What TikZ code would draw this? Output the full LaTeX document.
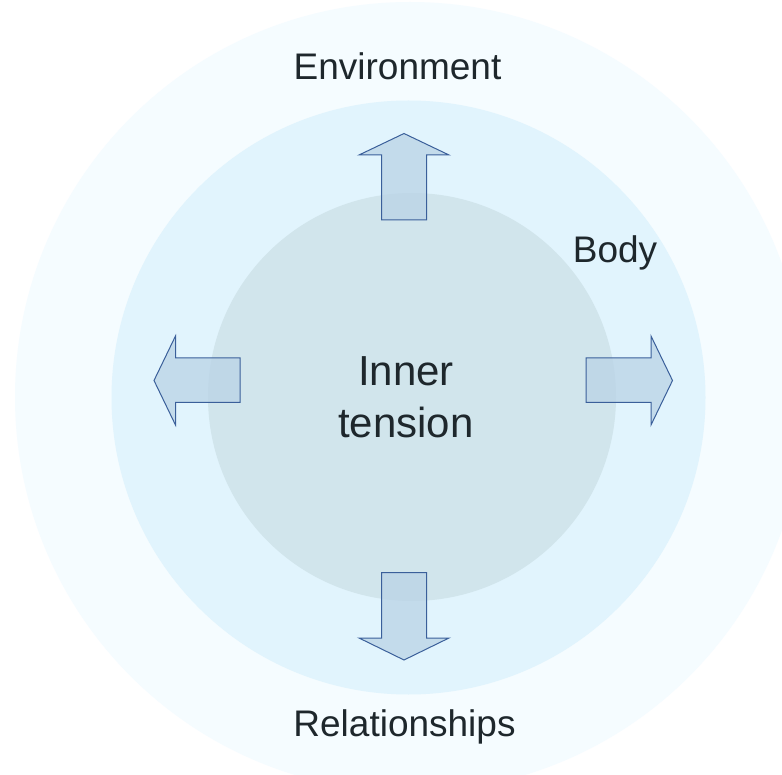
\documentclass[tikz,border=0pt]{standalone}
\usepackage{fontspec}
\setmainfont{Liberation Sans}
\begin{document}
\definecolor{ringout}{HTML}{F5FCFF}
\definecolor{ringmid}{HTML}{E1F4FD}
\definecolor{core}{HTML}{D1E5EC}
\definecolor{arrowfill}{HTML}{B9D3E6}
\definecolor{arrowedge}{HTML}{3A5F9A}
\definecolor{ink}{HTML}{1E272C}
\begin{tikzpicture}[x=1pt,y=-1pt,
  arrowshape/.style={fill=arrowfill,fill opacity=0.75,draw=arrowedge,line width=1pt,line join=miter},
  label/.style={text=ink,font=\fontsize{37}{44}\selectfont,inner sep=0pt},
  centerlabel/.style={text=ink,font=\fontsize{42}{52}\selectfont,align=center,inner sep=0pt}]
\useasboundingbox (0,0) rectangle (782,775);
\fill[white] (0,0) rectangle (782,775);
% concentric layers
\fill[ringout] (410,397) circle (395);
\fill[ringmid] (408.5,397.5) circle (297);
\fill[core] (412,397) circle (204);
% four block arrows pointing outwards
\draw[arrowshape] (381.5,220) -- (381.5,155) -- (359,155) -- (404,133.5) -- (449,155) -- (426.5,155) -- (426.5,220) -- cycle;
\draw[arrowshape] (381.5,572.5) -- (381.5,638) -- (359,638) -- (404,660) -- (449,638) -- (426.5,638) -- (426.5,572.5) -- cycle;
\draw[arrowshape] (240,358) -- (175.5,358) -- (175.5,336) -- (154,380.5) -- (175.5,425) -- (175.5,402.5) -- (240,402.5) -- cycle;
\draw[arrowshape] (586,358) -- (651,358) -- (651,336) -- (672.5,380.5) -- (651,425) -- (651,402.5) -- (586,402.5) -- cycle;
% labels
\node[label] (env) at (397.5,66) {Environment};
\node[label] (body) at (615,253) {Body};
\node[label] (rel) at (404.5,727) {Relationships};
\node[centerlabel] (inner) at (406,397) {Inner\\tension};
\end{tikzpicture}
\end{document}
